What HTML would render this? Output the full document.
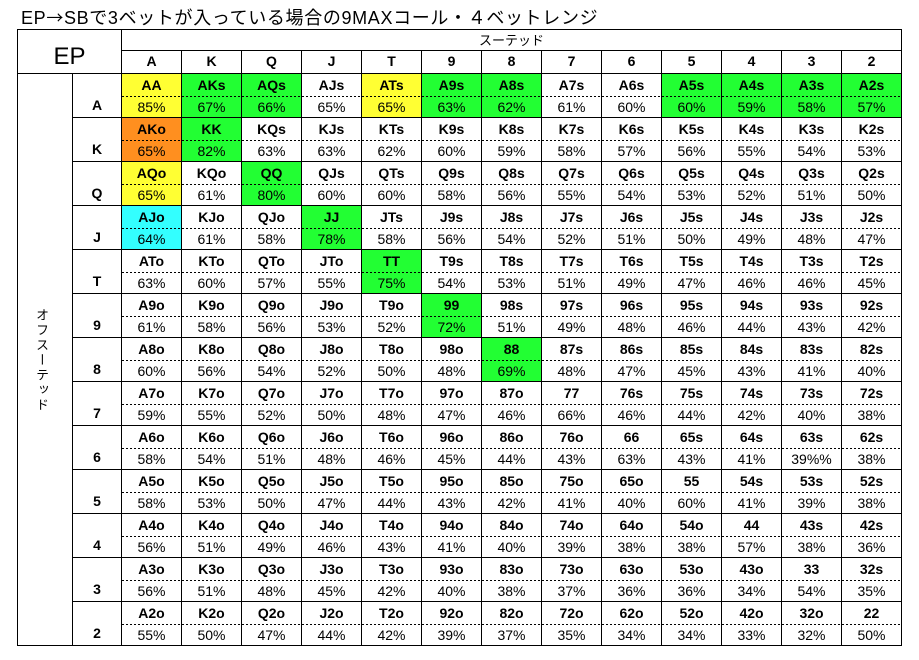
<!DOCTYPE html>
<html><head><meta charset="utf-8">
<style>
html,body{margin:0;padding:0;background:#fff;}
body{width:919px;height:660px;position:relative;overflow:hidden;font-family:"Liberation Sans","Noto Sans CJK JP",sans-serif;color:#000;}
.title{position:absolute;left:21px;top:8px;font-size:18px;line-height:18px;letter-spacing:0.65px;white-space:nowrap;}
.title .ar{font-family:"Noto Sans CJK JP",sans-serif;font-size:17px;}
.grid{position:absolute;left:17px;top:29px;display:grid;grid-template-columns:55px 49px repeat(13,60px);grid-template-rows:21px 23px repeat(13,44px);border-left:1px solid #000;border-top:1px solid #000;}
.grid>div{box-sizing:border-box;border-right:1px solid #000;border-bottom:1px solid #000;}
.ep{grid-column:1/3;grid-row:1/3;text-align:center;font-size:24px;line-height:24px;padding-top:15px;}
.su{grid-column:3/16;grid-row:1;text-align:center;font-size:13px;line-height:21px;}
.h{text-align:center;font-weight:bold;font-size:14px;line-height:20px;}
.v{grid-column:1;grid-row:3/span 13;display:flex;align-items:center;justify-content:center;}
.v span{writing-mode:vertical-rl;font-family:"Noto Sans CJK JP",sans-serif;font-size:13px;line-height:13px;letter-spacing:2px;margin-right:5px;margin-top:2px;}
.l{text-align:center;font-weight:bold;font-size:14px;line-height:22px;padding-top:20px;}
.d{text-align:center;font-size:14px;line-height:20px;}
.d b{display:block;height:23px;line-height:22px;background:linear-gradient(90deg,#000 55%,transparent 55%) 0 100%/4px 1px repeat-x;}
.y{background:#ffff33;}
.g{background:#22ff33;}
.o{background:#ff8f1f;}
.c{background:#33ffff;}
</style></head><body>
<div class="title">EP<span class="ar">→</span>SBで3ベットが入っている場合の9MAXコール・４ベットレンジ</div>
<div class="grid">
<div class="ep">EP</div>
<div class="su">スーテッド</div>
<div class="h">A</div><div class="h">K</div><div class="h">Q</div><div class="h">J</div><div class="h">T</div><div class="h">9</div><div class="h">8</div><div class="h">7</div><div class="h">6</div><div class="h">5</div><div class="h">4</div><div class="h">3</div><div class="h">2</div>
<div class="v"><span>オフスーテッド</span></div>

<div class="l">A</div>
<div class="d y"><b>AA</b>85%</div><div class="d g"><b>AKs</b>67%</div><div class="d g"><b>AQs</b>66%</div><div class="d"><b>AJs</b>65%</div><div class="d y"><b>ATs</b>65%</div><div class="d g"><b>A9s</b>63%</div><div class="d g"><b>A8s</b>62%</div><div class="d"><b>A7s</b>61%</div><div class="d"><b>A6s</b>60%</div><div class="d g"><b>A5s</b>60%</div><div class="d g"><b>A4s</b>59%</div><div class="d g"><b>A3s</b>58%</div><div class="d g"><b>A2s</b>57%</div>

<div class="l">K</div>
<div class="d o"><b>AKo</b>65%</div><div class="d g"><b>KK</b>82%</div><div class="d"><b>KQs</b>63%</div><div class="d"><b>KJs</b>63%</div><div class="d"><b>KTs</b>62%</div><div class="d"><b>K9s</b>60%</div><div class="d"><b>K8s</b>59%</div><div class="d"><b>K7s</b>58%</div><div class="d"><b>K6s</b>57%</div><div class="d"><b>K5s</b>56%</div><div class="d"><b>K4s</b>55%</div><div class="d"><b>K3s</b>54%</div><div class="d"><b>K2s</b>53%</div>

<div class="l">Q</div>
<div class="d y"><b>AQo</b>65%</div><div class="d"><b>KQo</b>61%</div><div class="d g"><b>QQ</b>80%</div><div class="d"><b>QJs</b>60%</div><div class="d"><b>QTs</b>60%</div><div class="d"><b>Q9s</b>58%</div><div class="d"><b>Q8s</b>56%</div><div class="d"><b>Q7s</b>55%</div><div class="d"><b>Q6s</b>54%</div><div class="d"><b>Q5s</b>53%</div><div class="d"><b>Q4s</b>52%</div><div class="d"><b>Q3s</b>51%</div><div class="d"><b>Q2s</b>50%</div>

<div class="l">J</div>
<div class="d c"><b>AJo</b>64%</div><div class="d"><b>KJo</b>61%</div><div class="d"><b>QJo</b>58%</div><div class="d g"><b>JJ</b>78%</div><div class="d"><b>JTs</b>58%</div><div class="d"><b>J9s</b>56%</div><div class="d"><b>J8s</b>54%</div><div class="d"><b>J7s</b>52%</div><div class="d"><b>J6s</b>51%</div><div class="d"><b>J5s</b>50%</div><div class="d"><b>J4s</b>49%</div><div class="d"><b>J3s</b>48%</div><div class="d"><b>J2s</b>47%</div>

<div class="l">T</div>
<div class="d"><b>ATo</b>63%</div><div class="d"><b>KTo</b>60%</div><div class="d"><b>QTo</b>57%</div><div class="d"><b>JTo</b>55%</div><div class="d g"><b>TT</b>75%</div><div class="d"><b>T9s</b>54%</div><div class="d"><b>T8s</b>53%</div><div class="d"><b>T7s</b>51%</div><div class="d"><b>T6s</b>49%</div><div class="d"><b>T5s</b>47%</div><div class="d"><b>T4s</b>46%</div><div class="d"><b>T3s</b>46%</div><div class="d"><b>T2s</b>45%</div>

<div class="l">9</div>
<div class="d"><b>A9o</b>61%</div><div class="d"><b>K9o</b>58%</div><div class="d"><b>Q9o</b>56%</div><div class="d"><b>J9o</b>53%</div><div class="d"><b>T9o</b>52%</div><div class="d g"><b>99</b>72%</div><div class="d"><b>98s</b>51%</div><div class="d"><b>97s</b>49%</div><div class="d"><b>96s</b>48%</div><div class="d"><b>95s</b>46%</div><div class="d"><b>94s</b>44%</div><div class="d"><b>93s</b>43%</div><div class="d"><b>92s</b>42%</div>

<div class="l">8</div>
<div class="d"><b>A8o</b>60%</div><div class="d"><b>K8o</b>56%</div><div class="d"><b>Q8o</b>54%</div><div class="d"><b>J8o</b>52%</div><div class="d"><b>T8o</b>50%</div><div class="d"><b>98o</b>48%</div><div class="d g"><b>88</b>69%</div><div class="d"><b>87s</b>48%</div><div class="d"><b>86s</b>47%</div><div class="d"><b>85s</b>45%</div><div class="d"><b>84s</b>43%</div><div class="d"><b>83s</b>41%</div><div class="d"><b>82s</b>40%</div>

<div class="l">7</div>
<div class="d"><b>A7o</b>59%</div><div class="d"><b>K7o</b>55%</div><div class="d"><b>Q7o</b>52%</div><div class="d"><b>J7o</b>50%</div><div class="d"><b>T7o</b>48%</div><div class="d"><b>97o</b>47%</div><div class="d"><b>87o</b>46%</div><div class="d"><b>77</b>66%</div><div class="d"><b>76s</b>46%</div><div class="d"><b>75s</b>44%</div><div class="d"><b>74s</b>42%</div><div class="d"><b>73s</b>40%</div><div class="d"><b>72s</b>38%</div>

<div class="l">6</div>
<div class="d"><b>A6o</b>58%</div><div class="d"><b>K6o</b>54%</div><div class="d"><b>Q6o</b>51%</div><div class="d"><b>J6o</b>48%</div><div class="d"><b>T6o</b>46%</div><div class="d"><b>96o</b>45%</div><div class="d"><b>86o</b>44%</div><div class="d"><b>76o</b>43%</div><div class="d"><b>66</b>63%</div><div class="d"><b>65s</b>43%</div><div class="d"><b>64s</b>41%</div><div class="d"><b>63s</b>39%%</div><div class="d"><b>62s</b>38%</div>

<div class="l">5</div>
<div class="d"><b>A5o</b>58%</div><div class="d"><b>K5o</b>53%</div><div class="d"><b>Q5o</b>50%</div><div class="d"><b>J5o</b>47%</div><div class="d"><b>T5o</b>44%</div><div class="d"><b>95o</b>43%</div><div class="d"><b>85o</b>42%</div><div class="d"><b>75o</b>41%</div><div class="d"><b>65o</b>40%</div><div class="d"><b>55</b>60%</div><div class="d"><b>54s</b>41%</div><div class="d"><b>53s</b>39%</div><div class="d"><b>52s</b>38%</div>

<div class="l">4</div>
<div class="d"><b>A4o</b>56%</div><div class="d"><b>K4o</b>51%</div><div class="d"><b>Q4o</b>49%</div><div class="d"><b>J4o</b>46%</div><div class="d"><b>T4o</b>43%</div><div class="d"><b>94o</b>41%</div><div class="d"><b>84o</b>40%</div><div class="d"><b>74o</b>39%</div><div class="d"><b>64o</b>38%</div><div class="d"><b>54o</b>38%</div><div class="d"><b>44</b>57%</div><div class="d"><b>43s</b>38%</div><div class="d"><b>42s</b>36%</div>

<div class="l">3</div>
<div class="d"><b>A3o</b>56%</div><div class="d"><b>K3o</b>51%</div><div class="d"><b>Q3o</b>48%</div><div class="d"><b>J3o</b>45%</div><div class="d"><b>T3o</b>42%</div><div class="d"><b>93o</b>40%</div><div class="d"><b>83o</b>38%</div><div class="d"><b>73o</b>37%</div><div class="d"><b>63o</b>36%</div><div class="d"><b>53o</b>36%</div><div class="d"><b>43o</b>34%</div><div class="d"><b>33</b>54%</div><div class="d"><b>32s</b>35%</div>

<div class="l">2</div>
<div class="d"><b>A2o</b>55%</div><div class="d"><b>K2o</b>50%</div><div class="d"><b>Q2o</b>47%</div><div class="d"><b>J2o</b>44%</div><div class="d"><b>T2o</b>42%</div><div class="d"><b>92o</b>39%</div><div class="d"><b>82o</b>37%</div><div class="d"><b>72o</b>35%</div><div class="d"><b>62o</b>34%</div><div class="d"><b>52o</b>34%</div><div class="d"><b>42o</b>33%</div><div class="d"><b>32o</b>32%</div><div class="d"><b>22</b>50%</div>
</div>
</body></html>
